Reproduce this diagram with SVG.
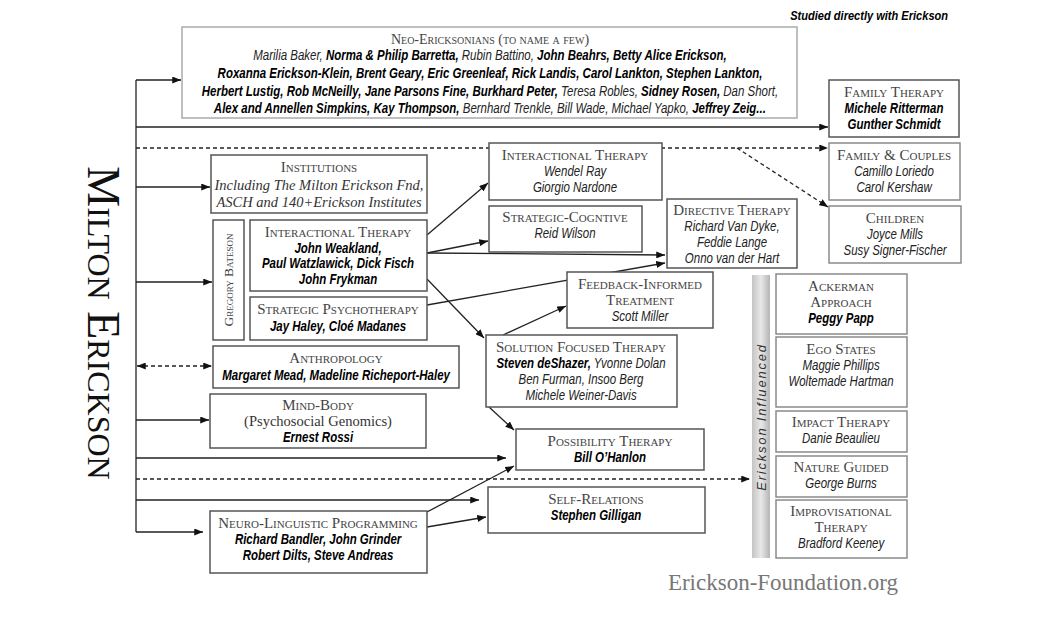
<svg xmlns="http://www.w3.org/2000/svg" width="1037" height="620" viewBox="0 0 1037 620">
<defs>
<marker id="a" viewBox="0 0 10 8" refX="10" refY="4" markerWidth="9" markerHeight="7" orient="auto-start-reverse" markerUnits="userSpaceOnUse"><path d="M0,0 L10,4 L0,8 z" fill="#111"/></marker>
<linearGradient id="g" x1="0" y1="0" x2="1" y2="0"><stop offset="0" stop-color="#c4c4c4"/><stop offset="0.5" stop-color="#e8e8e8"/><stop offset="1" stop-color="#b4b4b4"/></linearGradient>
<style>
.box{fill:#fff;stroke:#555;stroke-width:1.5}
.lt{stroke:#8a8a8a}
.xl{stroke:#aaa}
.t{font-family:"Liberation Serif","Times New Roman",serif;font-variant:small-caps;font-size:15px;fill:#444;text-anchor:middle}
.s{font-family:"Liberation Serif","Times New Roman",serif;font-size:14.5px;fill:#333;text-anchor:middle}
.si{font-style:italic}
.n{font-family:"Liberation Sans","Arial",sans-serif;font-style:italic;font-size:14px;fill:#222;text-anchor:middle;transform-box:fill-box;transform-origin:center;transform:scaleX(0.82)}
.b{font-weight:bold;fill:#000}
.c{stroke:#222;stroke-width:1.3;fill:none}
.d{stroke-dasharray:4 3}
</style>
</defs>
<rect width="1037" height="620" fill="#fff"/>

<text x="948" y="20" class="n b" style="text-anchor:end;font-size:13.5px;transform-origin:right center">Studied directly with Erickson</text>
<text transform="translate(88,323) rotate(90)" style="font-family:'Liberation Serif','Times New Roman',serif;font-variant:small-caps;font-size:46px;fill:#111;text-anchor:middle">Milton Erickson</text>

<g id="connectors">
<path class="c" d="M136,80 V532"/>
<path class="c" d="M136,80 H181" marker-end="url(#a)"/>
<path class="c" d="M136,127 H828" marker-end="url(#a)"/>
<path class="c d" d="M136,148 H828" marker-end="url(#a)"/>
<path class="c d" d="M737,148 L828,207" marker-end="url(#a)"/>
<path class="c" d="M136,187 H210" marker-end="url(#a)"/>
<path class="c" d="M136,282 H212" marker-end="url(#a)"/>
<path class="c d" d="M137,366 H212" marker-start="url(#a)" marker-end="url(#a)"/>
<path class="c" d="M136,420 H209" marker-end="url(#a)"/>
<path class="c" d="M136,458 H506" marker-end="url(#a)"/>
<path class="c d" d="M136,479 H750" marker-end="url(#a)"/>
<path class="c" d="M136,500 H479" marker-end="url(#a)"/>
<path class="c" d="M136,532 H203" marker-end="url(#a)"/>
<path class="c" d="M427,235 L488,183" marker-end="url(#a)"/>
<path class="c" d="M427,253 L488,241" marker-end="url(#a)"/>
<path class="c" d="M427,253 L665,255" marker-end="url(#a)"/>
<path class="c" d="M427,305 L665,263" marker-end="url(#a)"/>
<path class="c" d="M427,279 L484,338" marker-end="url(#a)"/>
<path class="c" d="M503,335 L566,306" marker-end="url(#a)"/>
<path class="c" d="M489,407 L514,430" marker-end="url(#a)"/>
<path class="c" d="M427,512 L514,466" marker-end="url(#a)"/>
<path class="c" d="M427,527 L486,517" marker-end="url(#a)"/>
</g>

<g id="neo">
<rect class="box xl" x="182" y="27" width="615" height="91"/>
<text class="t" x="490" y="44" style="font-size:14px">Neo-Ericksonians (to name a few)</text>
<text class="n" x="490" y="60">Marilia Baker, <tspan class="b">Norma &amp; Philip Barretta,</tspan> Rubin Battino, <tspan class="b">John Beahrs, Betty Alice Erickson,</tspan></text>
<text class="n b" x="490" y="78">Roxanna Erickson-Klein,  Brent Geary, Eric Greenleaf, Rick Landis, Carol Lankton, Stephen Lankton,</text>
<text class="n" x="490" y="96"><tspan class="b">Herbert Lustig, Rob McNeilly, Jane Parsons Fine, Burkhard Peter,</tspan> Teresa Robles, <tspan class="b">Sidney Rosen,</tspan> Dan Short,</text>
<text class="n" x="490" y="113"><tspan class="b">Alex and Annellen Simpkins, Kay Thompson,</tspan> Bernhard Trenkle, Bill Wade, Michael Yapko, <tspan class="b">Jeffrey Zeig...</tspan></text>
</g>

<g id="family">
<rect class="box" x="829" y="80" width="130" height="57"/>
<text class="t" x="894" y="97">Family Therapy</text>
<text class="n b" x="894" y="113">Michele Ritterman</text>
<text class="n b" x="894" y="129">Gunther Schmidt</text>
</g>
<g id="couples">
<rect class="box lt" x="829" y="143" width="131" height="57"/>
<text class="t" x="894" y="160">Family &amp; Couples</text>
<text class="n" x="894" y="176">Camillo Loriedo</text>
<text class="n" x="894" y="192">Carol Kershaw</text>
</g>
<g id="children">
<rect class="box lt" x="829" y="206" width="132" height="57"/>
<text class="t" x="895" y="223">Children</text>
<text class="n" x="895" y="239">Joyce Mills</text>
<text class="n" x="895" y="255">Susy Signer-Fischer</text>
</g>

<g id="institutions">
<rect class="box" x="211" y="155" width="216" height="58"/>
<text class="t" x="319" y="172">Institutions</text>
<text class="s si" x="319" y="190">Including The Milton Erickson Fnd,</text>
<text class="s si" x="319" y="207">ASCH and 140+Erickson Institutes</text>
</g>

<g id="bateson">
<rect class="box" x="213" y="220" width="31" height="120"/>
<text class="t" transform="translate(233,280) rotate(-90)" style="font-size:13.5px">Gregory Bateson</text>
</g>

<g id="interactional-l">
<rect class="box" x="250" y="220" width="177" height="71"/>
<text class="t" x="338" y="237">Interactional Therapy</text>
<text class="n b" x="338" y="253">John Weakland,</text>
<text class="n b" x="338" y="268">Paul Watzlawick, Dick Fisch</text>
<text class="n b" x="338" y="284">John Frykman</text>
</g>
<g id="strategic-psy">
<rect class="box" x="250" y="297" width="177" height="43"/>
<text class="t" x="338" y="314">Strategic Psychotherapy</text>
<text class="n b" x="338" y="331">Jay Haley, Cloé Madanes</text>
</g>

<g id="interactional-r">
<rect class="box" x="489" y="143" width="173" height="57"/>
<text class="t" x="575" y="160">Interactional Therapy</text>
<text class="n" x="575" y="176">Wendel Ray</text>
<text class="n" x="575" y="192">Giorgio Nardone</text>
</g>
<g id="strategic-cog">
<rect class="box" x="489" y="206" width="153" height="46"/>
<text class="t" x="565" y="222">Strategic-Cogntive</text>
<text class="n" x="565" y="238">Reid Wilson</text>
</g>
<g id="directive">
<rect class="box" x="667" y="199" width="130" height="69"/>
<text class="t" x="732" y="215">Directive Therapy</text>
<text class="n" x="732" y="231">Richard Van Dyke,</text>
<text class="n" x="732" y="247">Feddie Lange</text>
<text class="n" x="732" y="263">Onno van der Hart</text>
</g>
<g id="feedback">
<rect class="box" x="567" y="272" width="146" height="56"/>
<text class="t" x="640" y="289">Feedback-Informed</text>
<text class="t" x="640" y="305">Treatment</text>
<text class="n" x="640" y="321">Scott Miller</text>
</g>
<g id="solution">
<rect class="box" x="486" y="335" width="191" height="72"/>
<text class="t" x="581" y="352">Solution Focused Therapy</text>
<text class="n" x="581" y="368"><tspan class="b">Steven deShazer,</tspan> Yvonne Dolan</text>
<text class="n" x="581" y="384">Ben Furman, Insoo Berg</text>
<text class="n" x="581" y="400">Michele Weiner-Davis</text>
</g>

<g id="anthropology">
<rect class="box" x="213" y="346" width="246" height="42"/>
<text class="t" x="336" y="363">Anthropology</text>
<text class="n b" x="336" y="380">Margaret Mead, Madeline Richeport-Haley</text>
</g>
<g id="mindbody">
<rect class="box" x="210" y="394" width="216" height="54"/>
<text class="t" x="318" y="410">Mind-Body</text>
<text class="s" x="318" y="426">(Psychosocial Genomics)</text>
<text class="n b" x="318" y="442">Ernest Rossi</text>
</g>
<g id="possibility">
<rect class="box" x="516" y="429" width="188" height="41"/>
<text class="t" x="610" y="446">Possibility Therapy</text>
<text class="n b" x="610" y="462">Bill O’Hanlon</text>
</g>
<g id="self-relations">
<rect class="box" x="488" y="487" width="217" height="46"/>
<text class="t" x="596" y="504">Self-Relations</text>
<text class="n b" x="596" y="520">Stephen Gilligan</text>
</g>
<g id="nlp">
<rect class="box" x="210" y="511" width="217" height="62"/>
<text class="t" x="318" y="528">Neuro-Linguistic Programming</text>
<text class="n b" x="318" y="544">Richard Bandler, John Grinder</text>
<text class="n b" x="318" y="560">Robert Dilts, Steve Andreas</text>
</g>

<g id="erickson-influenced">
<rect x="752" y="275" width="18" height="283" fill="url(#g)"/>
<text transform="translate(766,417) rotate(-90)" style="font-family:'Liberation Sans',sans-serif;font-style:italic;font-size:13px;letter-spacing:1.8px;fill:#333;text-anchor:middle">Erickson Influenced</text>
</g>
<g id="ackerman">
<rect class="box lt" x="776" y="274" width="131" height="60"/>
<text class="t" x="841" y="291">Ackerman</text>
<text class="t" x="841" y="307">Approach</text>
<text class="n b" x="841" y="323">Peggy Papp</text>
</g>
<g id="ego">
<rect class="box lt" x="776" y="337" width="131" height="70"/>
<text class="t" x="841" y="354">Ego States</text>
<text class="n" x="841" y="370">Maggie Phillips</text>
<text class="n" x="841" y="386">Woltemade Hartman</text>
</g>
<g id="impact">
<rect class="box lt" x="776" y="411" width="131" height="41"/>
<text class="t" x="841" y="427">Impact Therapy</text>
<text class="n" x="841" y="443">Danie Beaulieu</text>
</g>
<g id="nature">
<rect class="box lt" x="776" y="456" width="131" height="41"/>
<text class="t" x="841" y="472">Nature Guided</text>
<text class="n" x="841" y="488">George Burns</text>
</g>
<g id="improv">
<rect class="box lt" x="776" y="500" width="131" height="58"/>
<text class="t" x="841" y="516">Improvisational</text>
<text class="t" x="841" y="532">Therapy</text>
<text class="n" x="841" y="548">Bradford Keeney</text>
</g>

<text x="783" y="590" style="font-family:'Liberation Serif','Times New Roman',serif;font-size:23px;fill:#777;text-anchor:middle">Erickson-Foundation.org</text>
</svg>
